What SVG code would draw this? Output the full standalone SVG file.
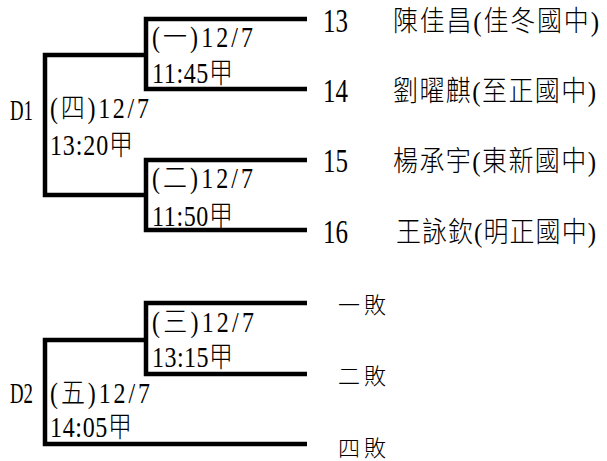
<svg xmlns="http://www.w3.org/2000/svg" width="607" height="461" viewBox="0 0 607 461">
<style>
.ln{fill:none;stroke:#000;stroke-width:4.5;stroke-linejoin:miter;stroke-linecap:butt}
text{font-family:"Liberation Serif","Noto Sans CJK TC",serif;fill:#000;font-weight:300}
.lb{font-size:24px}
.no{font-size:25px}
.nm{font-size:25px}
.ls{font-size:22px;font-family:"Noto Sans CJK TC",serif}
</style>
<rect width="607" height="461" fill="#fff"/>
<g id="connectors">
<polyline class="ln" points="307,19 146,19 146,89 307,89"/>
<polyline class="ln" points="307,160 146,160 146,230 307,230"/>
<polyline class="ln" points="146,55 45,55 45,195 146,195"/>
<polyline class="ln" points="307,303 146,303 146,374 307,374"/>
<polyline class="ln" points="146,340 45,340 45,444 307,444"/>
</g>
<g id="D1">
<text class="lb" transform="translate(10,120) scale(1,1.25)" textLength="23" lengthAdjust="spacingAndGlyphs">D1</text>
</g>
<g id="match4">
<text class="lb" transform="translate(50,118) scale(1,1.2)" textLength="99" lengthAdjust="spacing">(四)12/7</text>
<text class="lb" transform="translate(50,155) scale(1,1.2)" textLength="83" lengthAdjust="spacing">13:20甲</text>
</g>
<g id="match1">
<text class="lb" transform="translate(152,47) scale(1,1.2)" textLength="101" lengthAdjust="spacing">(一)12/7</text>
<text class="lb" transform="translate(152,83) scale(1,1.2)" textLength="81" lengthAdjust="spacing">11:45甲</text>
</g>
<g id="match2">
<text class="lb" transform="translate(152,188) scale(1,1.2)" textLength="101" lengthAdjust="spacing">(二)12/7</text>
<text class="lb" transform="translate(152,226) scale(1,1.2)" textLength="81" lengthAdjust="spacing">11:50甲</text>
</g>
<g id="p13">
<text class="no" transform="translate(323,32) scale(1,1.35)">13</text>
<text class="nm" transform="translate(393,31) scale(1,1.12)" textLength="206" lengthAdjust="spacing">陳佳昌(佳冬國中)</text>
</g>
<g id="p14">
<text class="no" transform="translate(323,102) scale(1,1.35)">14</text>
<text class="nm" transform="translate(393,101) scale(1,1.12)" textLength="203" lengthAdjust="spacing">劉曜麒(至正國中)</text>
</g>
<g id="p15">
<text class="no" transform="translate(323,172) scale(1,1.35)">15</text>
<text class="nm" transform="translate(393,171) scale(1,1.12)" textLength="203" lengthAdjust="spacing">楊承宇(東新國中)</text>
</g>
<g id="p16">
<text class="no" transform="translate(323,243) scale(1,1.35)">16</text>
<text class="nm" transform="translate(396,242) scale(1,1.12)" textLength="200" lengthAdjust="spacing">王詠欽(明正國中)</text>
</g>
<g id="D2">
<text class="lb" transform="translate(10,403) scale(1,1.25)" textLength="23" lengthAdjust="spacingAndGlyphs">D2</text>
</g>
<g id="match5">
<text class="lb" transform="translate(50,403) scale(1,1.2)" textLength="100" lengthAdjust="spacing">(五)12/7</text>
<text class="lb" transform="translate(50,437) scale(1,1.2)" textLength="82" lengthAdjust="spacing">14:05甲</text>
</g>
<g id="match3">
<text class="lb" transform="translate(152,332) scale(1,1.2)" textLength="102" lengthAdjust="spacing">(三)12/7</text>
<text class="lb" transform="translate(152,367) scale(1,1.2)" textLength="81" lengthAdjust="spacing">13:15甲</text>
</g>
<g id="l1">
<text class="ls" x="338" y="313" textLength="48" lengthAdjust="spacing">一敗</text>
</g>
<g id="l2">
<text class="ls" x="338" y="384" textLength="48" lengthAdjust="spacing">二敗</text>
</g>
<g id="l4">
<text class="ls" x="338" y="456" textLength="48" lengthAdjust="spacing">四敗</text>
</g>
</svg>
